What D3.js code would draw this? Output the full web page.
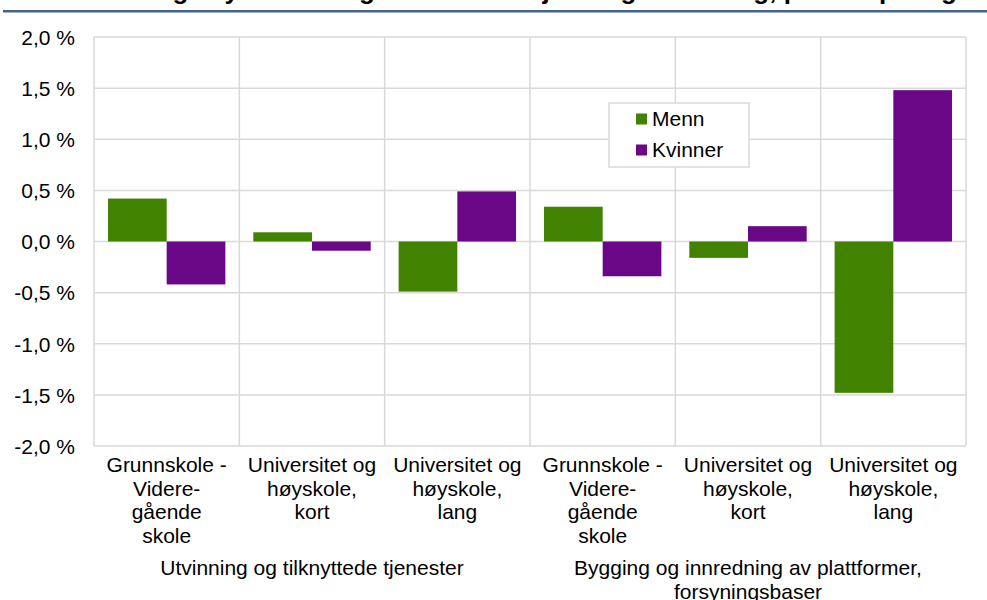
<!DOCTYPE html>
<html>
<head>
<meta charset="utf-8">
<script src="https://cdn.jsdelivr.net/npm/d3@7"></script>
<style>
  body { margin: 0; background: #fff; }
  svg { display: block; font-family: "Liberation Sans", Arial, sans-serif; }
</style>
</head>
<body>
<svg id="chart" width="987" height="600"></svg>
<script>
// data
const categories = [
  ['Grunnskole -', 'Videre-', 'gående', 'skole'],
  ['Universitet og', 'høyskole,', 'kort'],
  ['Universitet og', 'høyskole,', 'lang'],
  ['Grunnskole -', 'Videre-', 'gående', 'skole'],
  ['Universitet og', 'høyskole,', 'kort'],
  ['Universitet og', 'høyskole,', 'lang']
];
const groups = [
  ['Utvinning og tilknyttede tjenester'],
  ['Bygging og innredning av plattformer,', 'forsyningsbaser']
];
const seriesNames = ['Menn', 'Kvinner'];
const menn = [0.42, 0.09, -0.49, 0.34, -0.16, -1.48];
const kvinner = [-0.42, -0.09, 0.49, -0.34, 0.15, 1.48];
const yTicks = [-2.0, -1.5, -1.0, -0.5, 0.0, 0.5, 1.0, 1.5, 2.0];
const colors = ['#418200', '#6a0787'];

const svg = d3.select('#chart');
const fs = 21;

// title (cut off at the top of the picture, only descenders show)
svg.append('text')
    .attr('x', 957).attr('y', -1.5)
    .attr('text-anchor', 'end')
    .attr('font-size', 26).attr('font-weight', 'bold')
    .attr('fill', '#000')
    .text('Endring i sysselsettingsandel etter kjønn og utdanning, prosentpoeng');

svg.append('rect')
    .attr('x', 3).attr('y', 10).attr('width', 984).attr('height', 2.5)
    .attr('fill', '#46628f');

const plotL = 94, plotR = 966, plotT = 37, plotB = 446;

const x0 = d3.scaleBand().domain(d3.range(categories.length)).range([plotL, plotR]);
const x1 = d3.scaleBand().domain(seriesNames).range([0, x0.bandwidth()]).paddingOuter(0.238);
const y = d3.scaleLinear().domain([-2, 2]).range([plotB, plotT]);

const fmt = v => d3.format('.1f')(v).replace('.', ',').replace('−', '-') + ' %';

// horizontal grid
const grid = svg.append('g');
grid.selectAll('line.h').data(yTicks).join('line')
    .attr('class', 'h')
    .attr('x1', plotL).attr('x2', plotR)
    .attr('y1', d => y(d)).attr('y2', d => y(d))
    .attr('stroke', '#d9d9d9').attr('stroke-width', 1.5);
// vertical separators
grid.selectAll('line.v').data(d3.range(categories.length + 1)).join('line')
    .attr('class', 'v')
    .attr('x1', d => plotL + d * x0.step()).attr('x2', d => plotL + d * x0.step())
    .attr('y1', plotT).attr('y2', plotB)
    .attr('stroke', '#d9d9d9').attr('stroke-width', 1.5);

// y axis labels
const yAxis = svg.append('g')
    .attr('transform', `translate(${plotL - 19},0)`)
    .call(d3.axisLeft(y).tickValues(yTicks).tickFormat(fmt).tickSize(0).tickPadding(0));
yAxis.select('.domain').remove();
yAxis.selectAll('text')
    .attr('font-size', fs).attr('fill', '#000')
    .attr('font-family', '"Liberation Sans", Arial, sans-serif')
    .attr('dy', '0.35em');

// bars
const rows = categories.map((c, i) => ({ i, values: [menn[i], kvinner[i]] }));
const cat = svg.append('g').selectAll('g').data(rows).join('g')
    .attr('transform', d => `translate(${x0(d.i)},0)`);
cat.selectAll('rect').data(d => d.values.map((v, k) => ({ k, v }))).join('rect')
    .attr('x', d => x1(seriesNames[d.k]))
    .attr('width', x1.bandwidth())
    .attr('y', d => y(Math.max(0, d.v)))
    .attr('height', d => Math.abs(y(d.v) - y(0)))
    .attr('fill', d => colors[d.k]);

// category labels
const lineH = 23.5;
const catLabels = svg.append('g');
categories.forEach((lines, i) => {
  const cx = x0(i) + x0.bandwidth() / 2;
  const t = catLabels.append('text')
      .attr('x', cx).attr('y', 472)
      .attr('text-anchor', 'middle')
      .attr('font-size', fs).attr('fill', '#000');
  lines.forEach((l, j) => t.append('tspan')
      .attr('x', cx)
      .attr('dy', j === 0 ? 0 : lineH)
      .text(l));
});

// group labels
groups.forEach((lines, g) => {
  const cx = (x0(g * 3) + x0(g * 3 + 2) + x0.bandwidth()) / 2;
  const t = svg.append('text')
      .attr('x', cx).attr('y', 575)
      .attr('text-anchor', 'middle')
      .attr('font-size', fs).attr('fill', '#000');
  lines.forEach((l, j) => t.append('tspan')
      .attr('x', cx).attr('dy', j === 0 ? 0 : 23.5).text(l));
});

// legend
const legend = svg.append('g').attr('transform', 'translate(609,103)');
legend.append('rect')
    .attr('width', 140).attr('height', 64)
    .attr('fill', '#fff').attr('stroke', '#d9d9d9').attr('stroke-width', 1.5);
seriesNames.forEach((name, k) => {
  const row = legend.append('g').attr('transform', `translate(27,${16 + k * 31})`);
  row.append('rect').attr('y', -5.5).attr('width', 11).attr('height', 11).attr('fill', colors[k]);
  row.append('text').attr('x', 16).attr('dy', '0.35em')
      .attr('font-size', fs).attr('fill', '#000').text(name);
});
</script>
</body>
</html>
